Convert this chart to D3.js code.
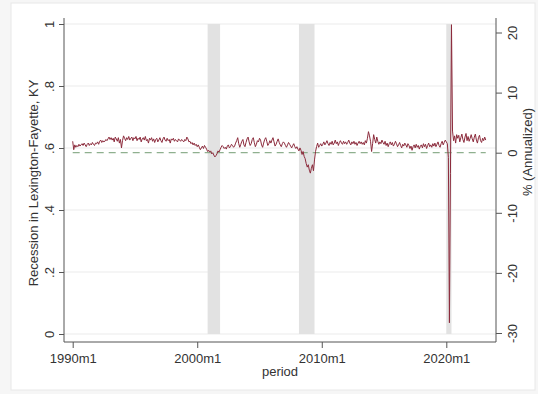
<!DOCTYPE html>
<html>
<head>
<meta charset="utf-8">
<script src="https://cdn.jsdelivr.net/npm/d3@7"></script>
<style>
  html, body { margin: 0; padding: 0; background: #f6f6f6; }
  svg { display: block; font-family: "Liberation Sans", Arial, sans-serif; }
</style>
</head>
<body>
<svg id="chart" width="538" height="394"></svg>
<script>
// Monthly series, 1990m1 .. 2023m3, % annualized (one row per year)
const startYear = 1990;
const growth = [
  /*1990*/ 1.9, 0.5, 1.3, 0.9, 1.2, 1.0, 1.4, 1.1, 1.3, 1.5, 1.2, 1.6,
  /*1991*/ 1.3, 1.0, 1.4, 1.6, 1.2, 1.5, 1.3, 1.7, 1.4, 1.2, 1.6, 1.5,
  /*1992*/ 1.8, 1.4, 1.9, 2.1, 1.7, 2.0, 1.8, 1.9, 2.2, 2.0, 2.3, 2.6,
  /*1993*/ 2.2, 2.5, 2.1, 2.4, 1.8, 2.6, 2.3, 1.9, 2.5, 1.6, 2.2, 0.8,
  /*1994*/ 2.0, 2.8, 2.4, 2.0, 2.5, 2.2, 2.7, 2.1, 2.4, 2.6, 2.0, 2.5,
  /*1995*/ 2.3, 2.7, 2.0, 2.4, 2.2, 2.6, 1.8, 2.3, 2.5, 2.1, 2.7, 2.0,
  /*1996*/ 2.2, 1.6, 2.4, 2.1, 2.5, 1.9, 2.3, 1.7, 2.2, 2.4, 1.8, 2.1,
  /*1997*/ 2.5, 2.0, 1.7, 2.3, 2.6, 2.1, 1.9, 2.4, 2.0, 2.2, 1.6, 2.3,
  /*1998*/ 2.1, 2.4, 1.9, 2.2, 2.0, 1.8, 2.3, 2.1, 1.9, 2.2, 2.0, 1.8,
  /*1999*/ 2.2, 2.0, 2.6, 2.3, 1.8, 1.9, 1.5, 1.7, 1.3, 1.6, 1.2, 1.4,
  /*2000*/ 1.0, 1.3, 0.9, 0.5, 0.8, 1.1, 0.7, 1.2, 0.9, 0.6, 0.2, 0.4,
  /*2001*/ 0.1, 0.3, -0.2, 0.0, -0.4, -0.7, -0.5, -0.2, 0.3, 0.1, 0.5, 0.9,
  /*2002*/ 1.2, 1.0, 0.7, 0.9, 0.6, 1.1, 1.3, 0.8, 1.0, 1.4, 1.2, 0.9,
  /*2003*/ 1.1, 1.6, 2.0, 2.5, 1.5, 0.9, 1.4, 1.9, 2.2, 1.3, 1.0, 1.7,
  /*2004*/ 2.3, 2.6, 1.8, 1.2, 1.5, 2.2, 2.5, 1.7, 1.0, 1.4, 2.0, 1.8,
  /*2005*/ 2.4, 2.1, 1.3, 0.9, 1.6, 2.2, 2.5, 1.9, 1.2, 1.5, 2.0, 1.6,
  /*2006*/ 2.1, 2.5, 1.8, 1.1, 1.4, 1.9, 2.3, 1.7, 1.3, 1.0, 1.5, 1.8,
  /*2007*/ 1.6, 1.2, 0.9, 1.3, 1.7, 1.4, 1.1, 0.8, 1.2, 1.5, 1.0, 0.7,
  /*2008*/ 1.0, 0.6, 0.3, 0.8, 0.4, -0.3, 0.2, -0.6, -1.0, -1.8, -2.4, -2.0,
  /*2009*/ -2.9, -3.4, -2.6, -2.0, -3.0, -1.2, 0.2, 1.0, 1.6, 0.9, 1.2, 1.5,
  /*2010*/ 1.1, 1.4, 1.8, 1.3, 1.6, 2.0, 1.5, 1.2, 1.7, 1.4, 1.9, 1.3,
  /*2011*/ 1.6, 2.1, 1.5, 1.8, 1.2, 1.7, 2.0, 1.6, 1.4, 1.9, 1.5, 1.8,
  /*2012*/ 1.4, 1.7, 2.1, 1.6, 1.3, 1.8, 1.5, 1.9, 1.4, 1.7, 1.2, 1.6,
  /*2013*/ 1.9, 1.5, 1.8, 1.4, 1.7, 1.3, 2.0, 1.6, 2.4, 3.5, 2.8, 1.9,
  /*2014*/ 0.2, 1.5, 3.0, 2.2, 1.6, 2.6, 1.9, 1.4, 1.8, 1.5, 2.1, 1.7,
  /*2015*/ 1.4, 1.9, 1.2, 1.6, 1.0, 1.5, 1.8, 1.3, 1.7, 1.1, 1.4, 1.9,
  /*2016*/ 1.5, 1.0, 1.3, 1.7, 1.2, 0.8, 1.4, 1.1, 1.6, 1.3, 0.9, 1.5,
  /*2017*/ 1.2, 0.7, 1.1, 0.4, 1.0, 1.3, 0.8, 1.4, 0.9, 1.2, 0.6, 1.1,
  /*2018*/ 1.3, 0.8, 1.5, 1.0, 1.4, 0.7, 1.2, 1.6, 1.0, 1.3, 0.9, 1.5,
  /*2019*/ 1.1, 1.6, 1.0, 1.4, 1.8, 1.2, 0.9, 1.5, 1.9, 1.3, 1.7, 2.1,
  /*2020*/ 1.8, 1.5, -0.8, -28.3, -3.5, 21.3, 3.6, 2.0, 2.8, 1.6, 3.0, 2.4,
  /*2021*/ 2.9, 1.8, 2.5, 3.1, 2.2, 1.7, 2.6, 3.2, 2.0, 2.7, 1.9, 2.4,
  /*2022*/ 3.0, 2.3, 1.8, 2.6, 3.1, 2.1, 1.6, 2.5, 2.9, 2.0, 1.7, 2.4,
  /*2023*/ 2.0, 2.6, 2.1
];

// Local recession periods (start month, end month)
const recessionStart = ["2000m11", "2008m3", "2020m1"];
const recessionEnd   = ["2001m11", "2009m6", "2020m6"];

// Axis ticks
const xTickLabels = ["1990m1", "2000m1", "2010m1", "2020m1"];
const leftTicks = [0, 0.2, 0.4, 0.6, 0.8, 1];
const leftTickLabels = ["0", ".2", ".4", ".6", ".8", "1"];
const rightTicks = [-30, -20, -10, 0, 10, 20];

// "YYYYmM" -> months since 1990m1
function monthIndex(s) {
  const [y, m] = s.split("m").map(Number);
  return (y - startYear) * 12 + (m - 1);
}

const svg = d3.select("#chart");
const W = 538, H = 394;
const plot = { left: 64, right: 496, top: 18, bottom: 342 };

// outer frame
svg.append("rect").attr("x", 11).attr("y", 3).attr("width", W - 14).attr("height", 387)
  .attr("fill", "#ffffff").attr("stroke", "#e8e8e8");

const x = d3.scaleLinear().domain([0, 360]).range([72.7, 446.3]);
const yL = d3.scaleLinear().domain([0, 1]).range([334, 24]);
const yR = d3.scaleLinear().domain([-30, 20]).range([333, 32.5]);

// horizontal grid at left-axis ticks
svg.append("g").selectAll("line").data(leftTicks).join("line")
  .attr("x1", plot.left).attr("x2", plot.right)
  .attr("y1", d => yL(d)).attr("y2", d => yL(d))
  .attr("stroke", "#ebebeb").attr("stroke-width", 1);

// recession shading (0..1 on the left axis)
svg.append("g").selectAll("rect").data(recessionStart.map((s, i) => [s, recessionEnd[i]])).join("rect")
  .attr("x", d => x(monthIndex(d[0])))
  .attr("width", d => x(monthIndex(d[1])) - x(monthIndex(d[0])))
  .attr("y", yL(1)).attr("height", yL(0) - yL(1))
  .attr("fill", "#e2e2e2");

// zero reference line over the series span
const n = growth.length;
svg.append("line")
  .attr("x1", x(0)).attr("x2", x(n - 1))
  .attr("y1", yR(0)).attr("y2", yR(0))
  .attr("stroke", "#8fb08f").attr("stroke-width", 1.3)
  .attr("stroke-dasharray", "7,5");

// growth series
const line = d3.line().x((d, i) => x(i)).y(d => yR(d));
svg.append("path").datum(growth)
  .attr("d", line)
  .attr("fill", "none").attr("stroke", "#8c2b3c").attr("stroke-width", 1)
  .attr("stroke-linejoin", "round");

const axisColor = "#555555", textColor = "#333333";

// left axis
const gL = svg.append("g").attr("transform", `translate(${plot.left},0)`)
  .call(d3.axisLeft(yL).tickValues(leftTicks).tickFormat((d, i) => leftTickLabels[i]).tickSize(5).tickSizeOuter(0));
gL.select(".domain").attr("d", `M0,${plot.top}V${plot.bottom}`);
gL.selectAll(".tick text")
  .attr("x", null).attr("dy", null)
  .attr("transform", "translate(-10.5,0) rotate(-90)")
  .attr("text-anchor", "middle");

// right axis (plain hyphen minus signs)
const gR = svg.append("g").attr("transform", `translate(${plot.right},0)`)
  .call(d3.axisRight(yR).tickValues(rightTicks).tickFormat(d => String(d)).tickSize(6).tickSizeOuter(0));
gR.select(".domain").attr("d", `M0,${plot.top}V${plot.bottom}`);
gR.selectAll(".tick text")
  .attr("x", null).attr("dy", null)
  .attr("transform", "translate(21,0) rotate(-90)")
  .attr("text-anchor", "middle");

// bottom axis
const gB = svg.append("g").attr("transform", `translate(0,${plot.bottom})`)
  .call(d3.axisBottom(x).tickValues(xTickLabels.map(monthIndex))
    .tickFormat((d, i) => xTickLabels[i]).tickSize(6).tickSizeOuter(0));
gB.select(".domain").attr("d", `M${plot.left},0H${plot.right}`);
gB.selectAll(".tick text").attr("dy", null).attr("y", 21);

[gL, gR, gB].forEach(g => {
  g.selectAll(".domain, .tick line").attr("stroke", axisColor).attr("stroke-width", 1);
  g.selectAll(".tick text").attr("fill", textColor)
    .attr("font-size", 13).attr("font-family", "'Liberation Sans', Arial, sans-serif");
});

// axis titles
svg.append("text").attr("transform", "translate(38,183) rotate(-90)")
  .attr("text-anchor", "middle").attr("font-size", 13).attr("fill", textColor)
  .text("Recession in Lexington-Fayette, KY");
svg.append("text").attr("transform", "translate(532,152) rotate(-90)")
  .attr("text-anchor", "middle").attr("font-size", 13).attr("fill", textColor)
  .text("% (Annualized)");
svg.append("text").attr("x", (plot.left + plot.right) / 2).attr("y", 376)
  .attr("text-anchor", "middle").attr("font-size", 13).attr("fill", textColor)
  .text("period");
</script>
</body>
</html>
